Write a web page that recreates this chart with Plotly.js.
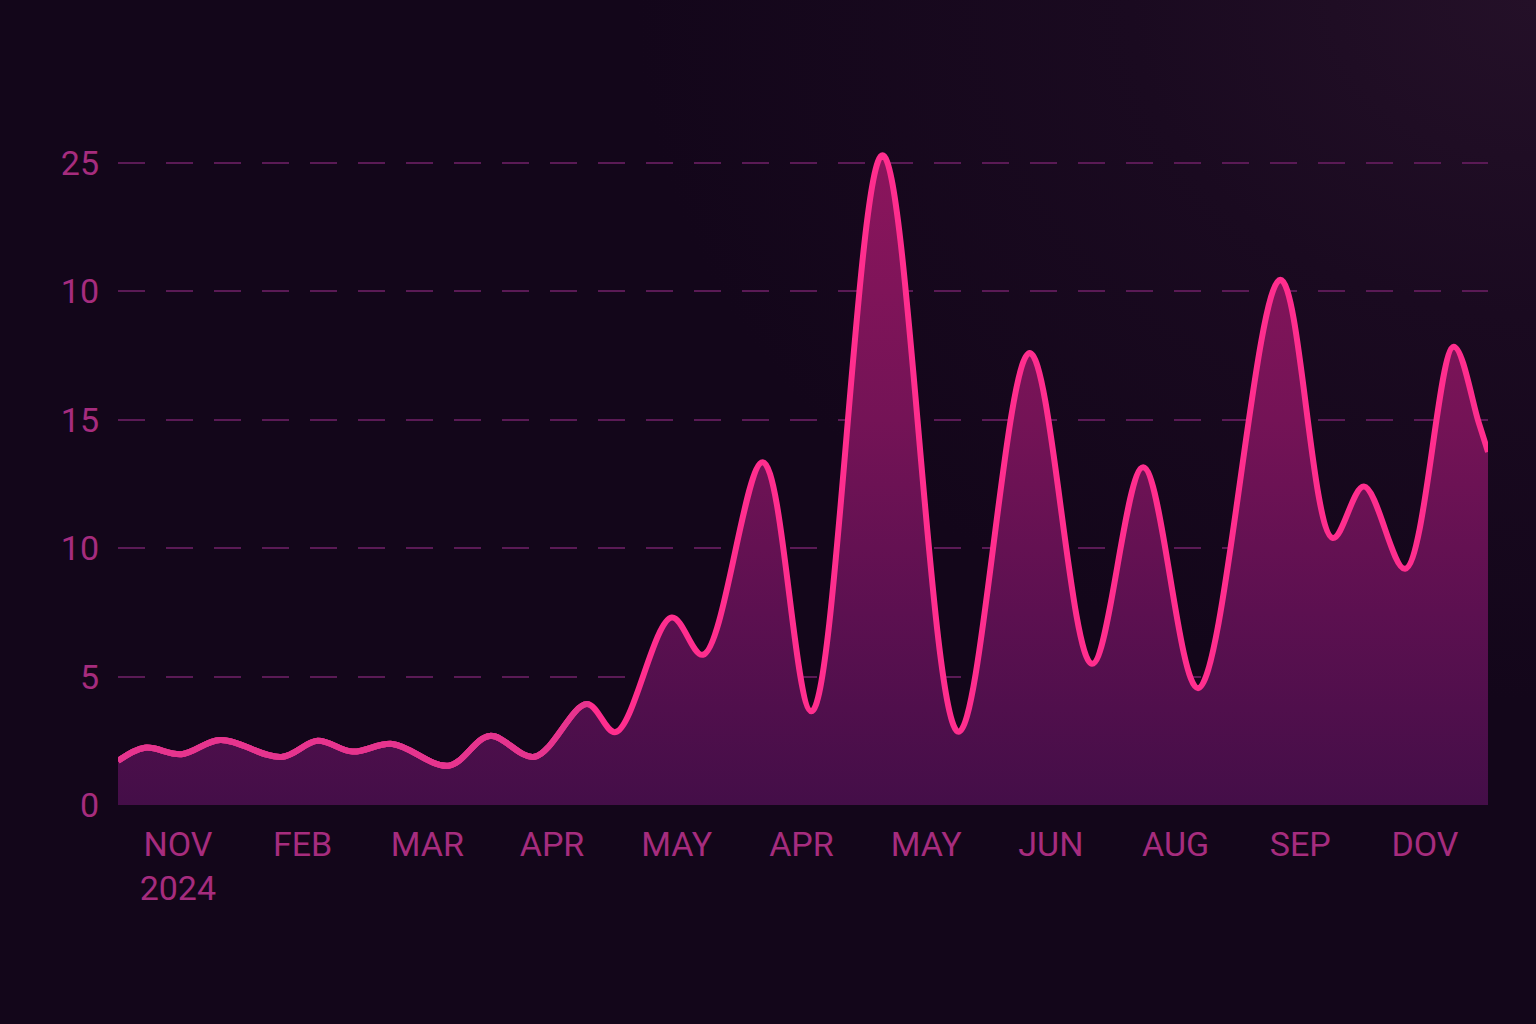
<!DOCTYPE html>
<html>
<head>
<meta charset="utf-8">
<script src="https://cdn.plot.ly/plotly-3.0.1.min.js"></script>
<style>
html,body{margin:0;padding:0;width:1536px;height:1024px;overflow:hidden;
background:#13061a;
background: radial-gradient(ellipse 900px 700px at 1536px 0px, #241028 0%, #1a0a20 45%, #13061a 100%);}
#chart{width:1536px;height:1024px;}
</style>
</head>
<body>
<div id="chart"></div>
<script>
// month position (fractional index of the tick labels) and value
const xPos = [-0.48, -0.265, 0.03, 0.34, 0.83, 1.12, 1.40, 1.72, 2.17, 2.50, 2.86,
  3.28, 3.51, 3.96, 4.21, 4.69, 5.08, 5.65, 6.26, 6.83, 7.33, 7.74, 8.18,
  8.84, 9.26, 9.51, 9.84, 10.23, 10.43, 10.505];
const values = [1.72, 2.23, 1.98, 2.53, 1.87, 2.5, 2.08, 2.38, 1.53, 2.69, 1.88,
  3.93, 2.84, 7.3, 5.85, 13.35, 3.65, 25.3, 2.85, 17.6, 5.5, 13.15, 4.55,
  20.45, 10.4, 12.4, 9.2, 17.85, 14.9, 13.75];
const monthLabels = ['NOV<br>2024', 'FEB', 'MAR', 'APR', 'MAY', 'APR', 'MAY', 'JUN', 'AUG', 'SEP', 'DOV'];
const yTickVals = [0, 5, 10, 15, 20, 25];
const yTickText = ['0', '5', '10', '15', '10', '25'];

const xMin = -0.48, xMax = 10.505;
const mutedEnd = 2.95, midEnd = 3.3;   // where the line colour brightens
const span = xMax - xMin;

const tickFont = {family: 'Roboto, "Noto Sans", sans-serif', size: 34, color: '#a62c7e'};
const spline = {shape: 'spline', smoothing: 1};

const main = {
  x: xPos, y: values, type: 'scatter', mode: 'lines',
  line: Object.assign({color: '#ff2e8e', width: 6}, spline),
  fill: 'tozeroy',
  fillgradient: {type: 'vertical', start: 0, stop: 25,
    colorscale: [[0, '#440e48'], [0.3, '#5c1050'], [0.6, '#741356'], [1, '#8a155c']]},
  hoverinfo: 'skip'
};
const muted = {
  x: xPos, y: values, type: 'scatter', mode: 'lines', xaxis: 'x2',
  line: Object.assign({color: '#cf3a8e', width: 6}, spline), hoverinfo: 'skip'
};
const mid = {
  x: xPos, y: values, type: 'scatter', mode: 'lines', xaxis: 'x3',
  line: Object.assign({color: '#e6348e', width: 6}, spline), hoverinfo: 'skip'
};

const hiddenX = (end) => ({
  range: [xMin, end], domain: [0, (end - xMin) / span], anchor: 'y',
  visible: false, fixedrange: true
});

const layout = {
  width: 1536, height: 1024,
  paper_bgcolor: 'rgba(0,0,0,0)', plot_bgcolor: 'rgba(0,0,0,0)',
  margin: {l: 118, r: 48, t: 86, b: 219},
  showlegend: false,
  xaxis: {
    range: [xMin, xMax], tickmode: 'array',
    tickvals: monthLabels.map((_, i) => i), ticktext: monthLabels,
    showgrid: false, zeroline: false, showline: false, ticks: '',
    tickfont: tickFont, ticklabelstandoff: 16, fixedrange: true
  },
  xaxis2: hiddenX(mutedEnd),
  xaxis3: hiddenX(midEnd),
  yaxis: {
    range: [0, 28], tickmode: 'array', tickvals: yTickVals, ticktext: yTickText,
    showgrid: true, gridcolor: '#5a1a55', gridwidth: 2, griddash: '27px,21px',
    zeroline: false, showline: false, ticks: '',
    tickfont: tickFont, ticklabelstandoff: 18, fixedrange: true
  }
};
Plotly.newPlot('chart', [main, mid, muted], layout, {displayModeBar: false, staticPlot: true});
</script>
</body>
</html>
